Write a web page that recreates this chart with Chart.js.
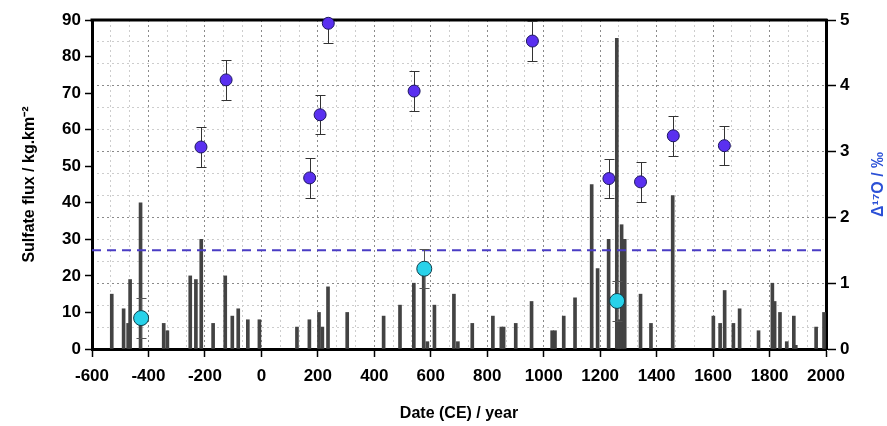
<!DOCTYPE html>
<html>
<head>
<meta charset="utf-8">
<script src="https://cdn.jsdelivr.net/npm/chart.js@4.4.1/dist/chart.umd.min.js"></script>
<style>
  html, body { margin: 0; padding: 0; background: #fff; }
</style>
</head>
<body>
<canvas id="chart" width="887" height="426"></canvas>
<script>
// sulfate deposits (bars, left axis)
const barYears = [-530, -488, -472, -465, -428, -346, -333, -252, -232, -213, -171, -128, -103, -82, -48, -7,
  126, 170, 204, 216, 236, 304, 433, 491, 540, 575, 588, 613, 682, 696, 747, 820, 850, 858, 901, 957,
  1030, 1040, 1071, 1111, 1170, 1191, 1230, 1259, 1268, 1276, 1287, 1343, 1380, 1457,
  1601, 1625, 1641, 1672, 1694, 1761, 1810, 1818, 1837, 1861, 1886, 1893, 1965, 1993];
const sulfateFlux = [15, 11, 7, 19, 40, 7, 5, 20, 19, 30, 7, 20, 9, 11, 8, 8,
  6, 8, 10, 6, 17, 10, 9, 12, 18, 22, 2, 12, 15, 2, 7, 9, 6, 6, 7, 13,
  5, 5, 9, 14, 45, 22, 30, 85, 8, 34, 30, 15, 7, 42,
  9, 7, 16, 7, 11, 5, 18, 13, 10, 2, 9, 1, 6, 10];

// Δ17O, purple points (right axis)
const d17Years = [-214, -125, 171, 208, 237, 541, 960, 1231, 1343, 1459, 1640];
const d17Values = [3.07, 4.09, 2.60, 3.56, 4.95, 3.92, 4.68, 2.59, 2.54, 3.24, 3.09];
const d17Errors = [0.3, 0.3, 0.3, 0.3, 0.3, 0.3, 0.3, 0.3, 0.3, 0.3, 0.3];

// Δ17O, cyan points (right axis)
const cyanYears = [-426, 577, 1260];
const cyanValues = [0.47, 1.22, 0.73];
const cyanErrors = [0.3, 0.3, 0.3];

// dashed threshold
const thresholdYears = [-600, 2000];
const thresholdValue = [1.5, 1.5];

const leftTicks = [0, 90, 10];   // min, max, step
const rightTicks = [0, 5];
const xRange = [-600, 2000];

const FONT = '"Liberation Sans", Arial, Helvetica, sans-serif';

// grid positions: thirds between labelled ticks
const xGrid = [];
for (let i = 0; i <= 39; i++) xGrid.push(xRange[0] + i * 200 / 3);
const yGrid = [];
for (let i = 0; i <= 15; i++) yGrid.push(i / 3);

const isMajorX = v => Math.abs(v / 200 - Math.round(v / 200)) < 1e-6;
const isMajorY = v => Math.abs(v - Math.round(v)) < 1e-6;

const errorBars = {
    id: 'errorBars',
    beforeDatasetDraw(chart, args) {
        const ds = chart.data.datasets[args.index];
        if (!ds.errores) return;
        const xs = chart.scales.x;
        const ys = chart.scales[ds.yAxisID];
        const a = chart.chartArea;
        const ctx = chart.ctx;
        ctx.save();
        ctx.beginPath();
        ctx.rect(a.left, a.top, a.right - a.left, a.bottom - a.top);
        ctx.clip();
        ctx.strokeStyle = ds.colorError;
        ctx.lineWidth = 1;
        ds.data.forEach((p, i) => {
            const x = Math.round(xs.getPixelForValue(p.x)) + 0.5;
            const y1 = Math.round(ys.getPixelForValue(p.y + ds.errores[i])) + 0.5;
            const y2 = Math.round(ys.getPixelForValue(p.y - ds.errores[i])) + 0.5;
            ctx.beginPath();
            ctx.moveTo(x, y1); ctx.lineTo(x, y2);
            ctx.moveTo(x - 5, y1); ctx.lineTo(x + 5, y1);
            ctx.moveTo(x - 5, y2); ctx.lineTo(x + 5, y2);
            ctx.stroke();
        });
        ctx.restore();
    }
};

const frame = {
    id: 'frame',
    beforeDatasetsDraw(chart) {
        const a = chart.chartArea;
        const ctx = chart.ctx;
        ctx.save();
        ctx.strokeStyle = '#000';
        ctx.lineWidth = 3;
        ctx.beginPath();
        ctx.moveTo(a.left - 1.5, a.top);
        ctx.lineTo(a.right + 1.5, a.top);
        ctx.stroke();
        ctx.restore();
    },
    afterDraw(chart) {
        const ctx = chart.ctx;
        const a = chart.chartArea;
        ctx.save();
        ctx.translate(879, (a.top + a.bottom) / 2);
        ctx.rotate(-Math.PI / 2);
        ctx.font = 'bold 16px ' + FONT;
        ctx.fillStyle = '#2b50d6';
        ctx.textAlign = 'center';
        ctx.textBaseline = 'middle';
        ctx.fillText('Δ¹⁷O / ‰', 0, 0);
        ctx.restore();
    }
};

const ctx = document.getElementById('chart').getContext('2d');
new Chart(ctx, {
    type: 'bar',
    data: {
        datasets: [
            {
                type: 'bar',
                label: 'Sulfate flux',
                data: barYears.map((x, i) => ({ x: x, y: sulfateFlux[i] })),
                backgroundColor: '#434343',
                borderWidth: 0,
                barThickness: 3,
                yAxisID: 'y',
                order: 4
            },
            {
                type: 'line',
                label: 'threshold',
                data: thresholdYears.map((x, i) => ({ x: x, y: thresholdValue[i] })),
                borderColor: '#4a3cc4',
                borderWidth: 2,
                borderDash: [9, 6],
                pointRadius: 0,
                fill: false,
                yAxisID: 'y2',
                order: 3
            },
            {
                type: 'scatter',
                label: 'Δ17O',
                data: d17Years.map((x, i) => ({ x: x, y: d17Values[i] })),
                errores: d17Errors,
                colorError: '#333',
                backgroundColor: '#5a30f0',
                borderColor: '#1c1660',
                borderWidth: 1,
                pointRadius: 6,
                yAxisID: 'y2',
                clip: false,
                order: 2
            },
            {
                type: 'scatter',
                label: 'Δ17O cyan',
                data: cyanYears.map((x, i) => ({ x: x, y: cyanValues[i] })),
                errores: cyanErrors,
                colorError: '#555',
                backgroundColor: '#28d2ea',
                borderColor: '#123c48',
                borderWidth: 1,
                pointRadius: 7.5,
                yAxisID: 'y2',
                clip: false,
                order: 1
            }
        ]
    },
    options: {
        responsive: false,
        animation: false,
        events: [],
        layout: { padding: { top: 20, left: 0, right: 0, bottom: 0 } },
        plugins: {
            legend: { display: false },
            tooltip: { enabled: false }
        },
        scales: {
            x: {
                type: 'linear',
                min: xRange[0],
                max: xRange[1],
                offset: false,
                afterBuildTicks: s => { s.ticks = xGrid.map(v => ({ value: v })); },
                afterFit: s => { s.height = 77; },
                ticks: {
                    autoSkip: false,
                    maxRotation: 0,
                    padding: 9,
                    color: '#000',
                    font: { family: FONT, size: 17, weight: 'bold' },
                    callback: v => isMajorX(v) ? String(Math.round(v)) : ''
                },
                grid: {
                    offset: false,
                    color: c => isMajorX(c.tick.value) ? '#8a8a8a' : '#cdcdcd',
                    lineWidth: 1,
                    tickColor: c => isMajorX(c.tick.value) ? '#000' : 'rgba(0,0,0,0)',
                    tickLength: 8,
                    tickWidth: 1.5
                },
                border: { color: '#000', width: 3, dash: [2, 3] },
                title: {
                    display: true,
                    text: 'Date (CE) / year',
                    color: '#000',
                    font: { family: FONT, size: 16, weight: 'bold' },
                    padding: { top: 0, bottom: 3 }
                }
            },
            y: {
                type: 'linear',
                position: 'left',
                min: leftTicks[0],
                max: leftTicks[1],
                afterFit: s => { s.width = 92; },
                ticks: {
                    stepSize: leftTicks[2],
                    padding: 4,
                    color: '#000',
                    font: { family: FONT, size: 17, weight: 'bold' }
                },
                grid: {
                    drawOnChartArea: false,
                    tickColor: '#000',
                    tickLength: 7,
                    tickWidth: 1.5
                },
                border: { color: '#000', width: 3 },
                title: {
                    display: true,
                    text: 'Sulfate flux / kg.km⁻²',
                    color: '#000',
                    font: { family: FONT, size: 16, weight: 'bold' },
                    padding: { top: 20, bottom: 0 }
                }
            },
            y2: {
                type: 'linear',
                position: 'right',
                min: rightTicks[0],
                max: rightTicks[1],
                afterBuildTicks: s => { s.ticks = yGrid.map(v => ({ value: v })); },
                afterFit: s => { s.width = 61; },
                ticks: {
                    autoSkip: false,
                    padding: 4,
                    color: '#000',
                    font: { family: FONT, size: 17, weight: 'bold' },
                    callback: v => isMajorY(v) ? String(Math.round(v)) : ''
                },
                grid: {
                    color: c => isMajorY(c.tick.value) ? '#8a8a8a' : '#cdcdcd',
                    lineWidth: 1,
                    tickColor: c => isMajorY(c.tick.value) ? '#000' : 'rgba(0,0,0,0)',
                    tickLength: 10,
                    tickWidth: 1.5
                },
                border: { color: '#000', width: 3, dash: [2, 3] }
            }
        }
    },
    plugins: [errorBars, frame]
});
</script>
</body>
</html>
